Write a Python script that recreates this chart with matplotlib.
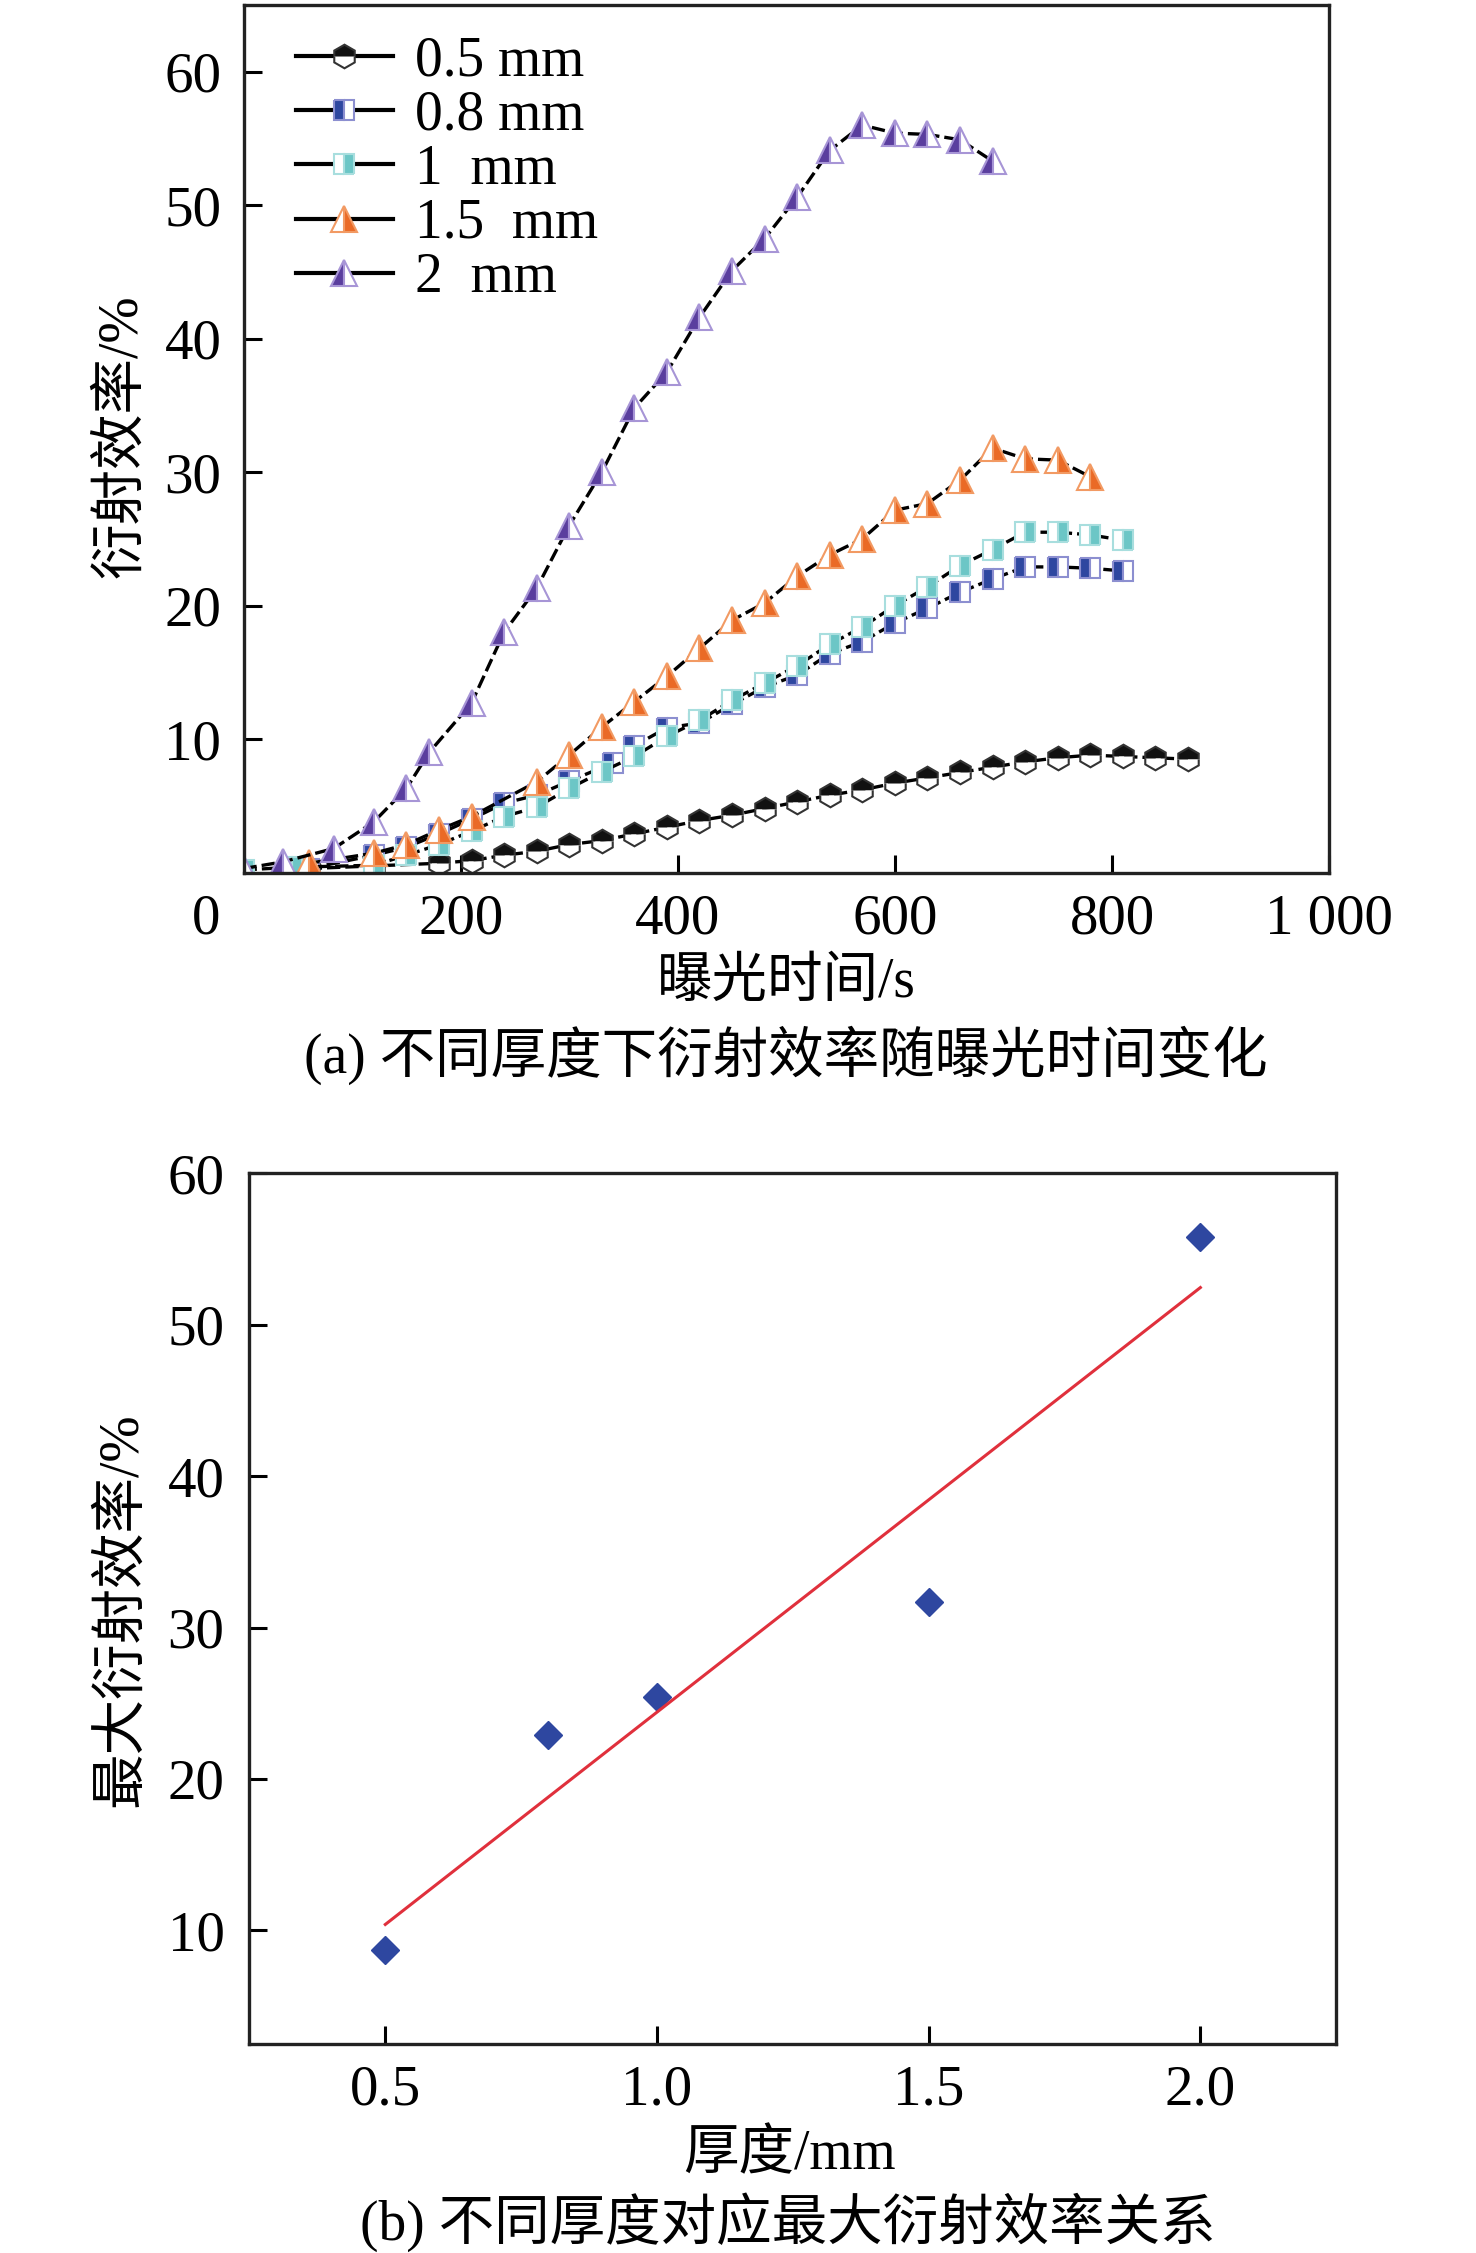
import numpy as np
import matplotlib
matplotlib.use('Agg')
import matplotlib.pyplot as plt
import matplotlib.transforms as mtrans
from matplotlib.lines import Line2D

plt.rcParams['font.family'] = ['Liberation Serif', 'Noto Sans CJK SC']
plt.rcParams['font.size'] = 40

# (a) diffraction efficiency vs exposure time, by thickness
t_05 = [60, 120, 180, 210, 240, 270, 300, 330, 360, 390, 420, 450, 480, 510,
        540, 570, 600, 630, 660, 690, 720, 750, 780, 810, 840, 870]
e_05 = [0.3, 0.5, 0.7, 0.9, 1.3, 1.6, 2.1, 2.4, 2.9, 3.4, 3.9, 4.3, 4.8, 5.3,
        5.8, 6.2, 6.7, 7.1, 7.5, 7.9, 8.3, 8.6, 8.8, 8.7, 8.6, 8.5]

t_08 = [60, 120, 150, 180, 210, 240, 270, 300, 340, 360, 390, 420, 450, 480,
        510, 540, 570, 600, 630, 660, 690, 720, 750, 780, 810]
e_08 = [0.3, 1.3, 1.9, 2.9, 4.0, 5.2, 5.8, 6.85, 8.2, 9.5, 10.85, 11.2, 12.6,
        13.9, 14.8, 16.4, 17.3, 18.7, 19.8, 21.0, 22.0, 22.9, 22.9, 22.8, 22.6]

t_1 = [0, 45, 120, 150, 180, 210, 240, 270, 300, 330, 360, 390, 420, 450, 480,
       510, 540, 570, 600, 630, 660, 690, 720, 750, 780, 810]
e_1 = [0.2, 0.4, 0.55, 1.3, 2.1, 3.1, 4.2, 4.9, 6.3, 7.55, 8.7, 10.2, 11.4,
       12.9, 14.2, 15.5, 17.1, 18.4, 20.0, 21.4, 23.0, 24.2, 25.5, 25.5, 25.3, 24.9]

t_15 = [60, 120, 150, 180, 210, 270, 300, 330, 360, 390, 420, 450, 480, 510,
        540, 570, 600, 630, 660, 690, 720, 750, 780]
e_15 = [0.7, 1.45, 2.1, 3.2, 4.2, 6.8, 8.8, 10.9, 12.8, 14.7, 16.8, 18.9, 20.2,
        22.2, 23.8, 25.0, 27.15, 27.65, 29.4, 31.8, 31.0, 30.9, 29.65]

t_2 = [0, 36, 83, 120, 150, 171, 210, 240, 270, 300, 330, 360, 390, 420, 450,
       480, 510, 540, 570, 600, 630, 660, 690]
e_2 = [0.3, 0.8, 1.8, 3.8, 6.3, 9.0, 12.7, 18.0, 21.3, 26.0, 30.0, 34.8, 37.5,
       41.6, 45.1, 47.5, 50.6, 54.1, 56.0, 55.4, 55.3, 54.9, 53.3]

labels = ['0.5 mm', '0.8 mm', '1  mm', '1.5  mm', '2  mm']

# (b) max efficiency vs thickness
thick = [0.5, 0.8, 1.0, 1.5, 2.0]
max_eff = [8.7, 22.9, 25.4, 31.7, 55.8]

black = '#111111'
blue = '#2E47A0'
cyan = '#6CC6C6'
orange = '#EA6A26'
purple = '#5A3E9E'

styles = [
    dict(marker='h', ms=17, fillstyle='top', mfc=black, mec='#333333', mfcalt='white', mew=1.5),
    dict(marker='s', ms=14, fillstyle='left', mfc=blue, mec='#8C8FD0', mfcalt='white', mew=1.5),
    dict(marker='s', ms=14, fillstyle='right', mfc=cyan, mec='#A8DEDE', mfcalt='white', mew=1.5),
    dict(marker='^', ms=19, fillstyle='right', mfc=orange, mec='#F29A63', mfcalt='white', mew=1.5),
    dict(marker='^', ms=19, fillstyle='left', mfc=purple, mec='#A795D6', mfcalt='white', mew=1.5),
]

fig = plt.figure(figsize=(14.76, 22.53), dpi=100)

ax1 = fig.add_axes([0.165, 0.6127, 0.7355, 0.3851])
series = [(t_05, e_05), (t_08, e_08), (t_1, e_1), (t_15, e_15), (t_2, e_2)]
for (t, e), st in zip(series, styles):
    ax1.plot(t, e, color='black', lw=2.4, ls=(0, (4, 1.5)), **st)

ax1.set_xlim(0, 1000)
ax1.set_ylim(0, 65)
ax1.set_xticks([0, 200, 400, 600, 800, 1000])
ax1.set_xticklabels(['0', '200', '400', '600', '800', '1 000'])
ax1.set_yticks([10, 20, 30, 40, 50, 60])
ax1.tick_params(direction='in', length=13, width=2.2, labelsize=41)
ax1.tick_params(axis='x', pad=15)
ax1.tick_params(axis='y', pad=16)
lbl0 = ax1.get_xticklabels()[0]
lbl0.set_transform(lbl0.get_transform() + mtrans.ScaledTranslation(-0.37, 0, fig.dpi_scale_trans))
ax1.xaxis.get_major_ticks()[0].tick1line.set_visible(False)
for s in ax1.spines.values():
    s.set_linewidth(2.4)
    s.set_color('#222222')

handles = [Line2D([], [], color='black', lw=3, **st) for st in styles]
ax1.legend(handles, labels, loc='upper left', bbox_to_anchor=(0.048, 0.965),
           frameon=False, fontsize=40, labelspacing=0.04, handlelength=1.75,
           handletextpad=0.4, borderpad=0, borderaxespad=0)

fig.text(0.083, 0.8065, '衍射效率/%', rotation=90, ha='center', va='center', fontsize=40)
fig.text(0.533, 0.5637, '曝光时间/s', ha='center', va='center', fontsize=40)
fig.text(0.5325, 0.5317, '(a) 不同厚度下衍射效率随曝光时间变化', ha='center', va='center', fontsize=40)

ax2 = fig.add_axes([0.169, 0.0928, 0.7363, 0.3864])
ax2.plot(thick, max_eff, ls='none', marker='D', ms=14, color=blue, mec=blue)
k, b = np.polyfit(thick, max_eff, 1)
xf = np.array([thick[0], thick[-1]])
ax2.plot(xf, k * xf + b, color='#E0303C', lw=2.2)
ax2.set_xlim(0.25, 2.25)
ax2.set_ylim(2.5, 60)
ax2.set_xticks([0.5, 1.0, 1.5, 2.0])
ax2.set_xticklabels(['0.5', '1.0', '1.5', '2.0'])
ax2.set_yticks([10, 20, 30, 40, 50, 60])
ax2.tick_params(direction='in', length=13, width=2.2, labelsize=41)
ax2.tick_params(axis='x', pad=15)
ax2.tick_params(axis='y', pad=18)
for s in ax2.spines.values():
    s.set_linewidth(2.4)
    s.set_color('#222222')

fig.text(0.083, 0.2854, '最大衍射效率/%', rotation=90, ha='center', va='center', fontsize=40)
fig.text(0.535, 0.0435, '厚度/mm', ha='center', va='center', fontsize=40)
fig.text(0.534, 0.0135, '(b) 不同厚度对应最大衍射效率关系', ha='center', va='center', fontsize=40)

fig.savefig('out.png', dpi=100)
